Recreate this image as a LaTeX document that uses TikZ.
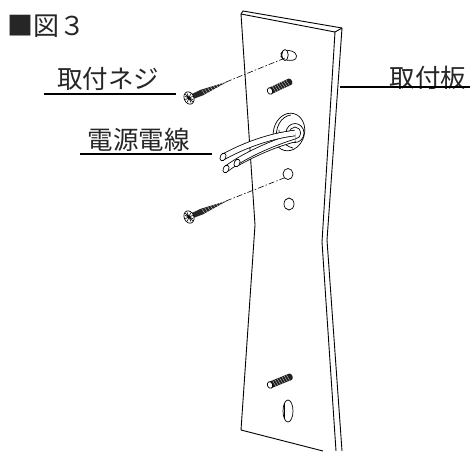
\documentclass[tikz,border=0pt]{standalone}
\usepackage{fontspec}
\newfontfamily\cjk{Noto Sans CJK JP}
\tikzset{
 lab/.style={inner sep=0pt,font=\cjk\fontsize{25.5}{26}\selectfont,text=black!85},
 rule/.style={line width=2.4pt,black},
 edge/.style={line width=0.9pt,line join=round},
 thin part/.style={line width=0.7pt},
 centre/.style={line width=0.6pt,dash pattern=on 6pt off 2pt on 1.5pt off 2pt},
 stud/.pic={
   \fill[black!88] (0,-3.4) -- (22,-3.4) arc (90:-90:2.2 and -3.4) -- (0,3.4) -- cycle;
   \foreach \x in {4,6.5,...,21} \draw[white,line width=0.25pt] (\x,-3.4) -- (\x+1,3.4);
   \draw[thin part,fill=white] (0,0) ellipse (2.6 and 3.4);
 },
 screw/.pic={
   \fill[black!85] (0,-2.4) -- (14,-3) -- (42,0) -- (14,3) -- (0,2.4) -- cycle;
   \foreach \x in {15,18,...,36} \draw[white,line width=0.25pt] (\x,-2.4) -- (\x+1,2.4);
   \draw[thin part,fill=white] (0,0) ellipse (4.8 and 6.4);
   \draw[line width=0.6pt] (-3,-3) -- (3,3) (-3,3) -- (3,-3) (0,-5) -- (0,5) (-4,0) -- (4,0) (-2,-5) -- (2,5);
 },
 cable/.style={line width=6.4pt,line cap=butt},
 cablein/.style={line width=4.8pt,white,line cap=butt},
}
\begin{document}
\begin{tikzpicture}[x=1pt,y=-1pt]
\useasboundingbox (0,0) rectangle (470,451);
\fill[white] (0,0) rectangle (470,451);
% plate
\draw[edge] (241,14) -- (255,225) -- (241,430) -- (323,451);
\draw[edge] (241,14) -- (335,32) -- (322,242) -- (336,451);
\draw[edge] (241,14) -- (243,11) -- (342,28) -- (327,240) -- (342,451);
\draw[edge] (335,32) -- (342,28);
% upper slot
\draw[thin part,rounded corners=4pt] (284,49.5) -- (296,52) -- (297,60) -- (284,60.5) -- (280,55) -- cycle;
\draw[thin part,fill=white] (285,55) ellipse (3.2 and 5.5);
% studs
\pic[rotate=25] at (270,91) {stud};
\pic[rotate=22] at (270,385) {stud};
% holes
\draw[thin part] (288,174) ellipse (5 and 5.5);
\draw[thin part] (289,204) ellipse (5 and 6);
\draw[thin part] (288,411) ellipse (5 and 11);
\draw[thin part] (284.8,403) -- (284.8,419);
% grommet
\draw[thin part,fill=white,rotate around={-15:(289,132)}] (289,132) ellipse (15.5 and 19);
\draw[thin part] (277,142) .. controls (274,128) and (281,116) .. (291,115);
\draw[thin part] (293,148) .. controls (284,146) and (279,138) .. (279,130);
\draw[thin part] (295,133) ellipse (9 and 9.5);
\draw[thin part] (295,133) ellipse (5.5 and 6);
% cables
\draw[cable] (237,163) .. controls (255,153) and (275,144) .. (295,139);
\draw[cablein] (237,163) .. controls (255,153) and (275,144) .. (295,139);
\draw[cable] (226,169) .. controls (245,155) and (270,144) .. (295,136);
\draw[cablein] (226,169) .. controls (245,155) and (270,144) .. (295,136);
\draw[cable] (223,157) .. controls (245,145) and (270,136) .. (295,133);
\draw[cablein] (223,157) .. controls (245,145) and (270,136) .. (295,133);
\draw[thin part,fill=white,rotate around={-25:(223,157)}] (223,157) ellipse (2.8 and 4);
\draw[thin part,fill=white,rotate around={-25:(226,169)}] (226,169) ellipse (2.8 and 4);
\draw[thin part,fill=white,rotate around={-25:(237,163)}] (237,163) ellipse (2.8 and 4);
% screws
\coordinate (s1) at (226,82); \coordinate (h1) at (285,58);
\coordinate (s2) at (226,201); \coordinate (h2) at (284,178);
\draw[centre] (s1) -- (h1);
\draw[centre] (s2) -- (h2);
\pic[rotate=23] at (189,98) {screw};
\pic[rotate=23] at (189,217) {screw};
% labels
\node[inner sep=0pt,anchor=west,text=black!85,font=\cjk\fontsize{26}{26}\selectfont] (title) at (7,26) {■図３};
\node[lab] (screwlab) at (108,79) {取付ネジ};
\node[lab] (wirelab) at (138.5,140) {電源電線};
\node[lab] (platelab) at (428,78) {取付板};
\coordinate (a1) at (44,94); \coordinate (a2) at (176,94);
\coordinate (b1) at (80,154); \coordinate (b2) at (212,154);
\coordinate (c1) at (340,87); \coordinate (c2) at (470,87);
\draw[rule] (a1) -- (a2);
\draw[rule] (b1) -- (b2);
\draw[rule] (c1) -- (c2);
\end{tikzpicture}
\end{document}
